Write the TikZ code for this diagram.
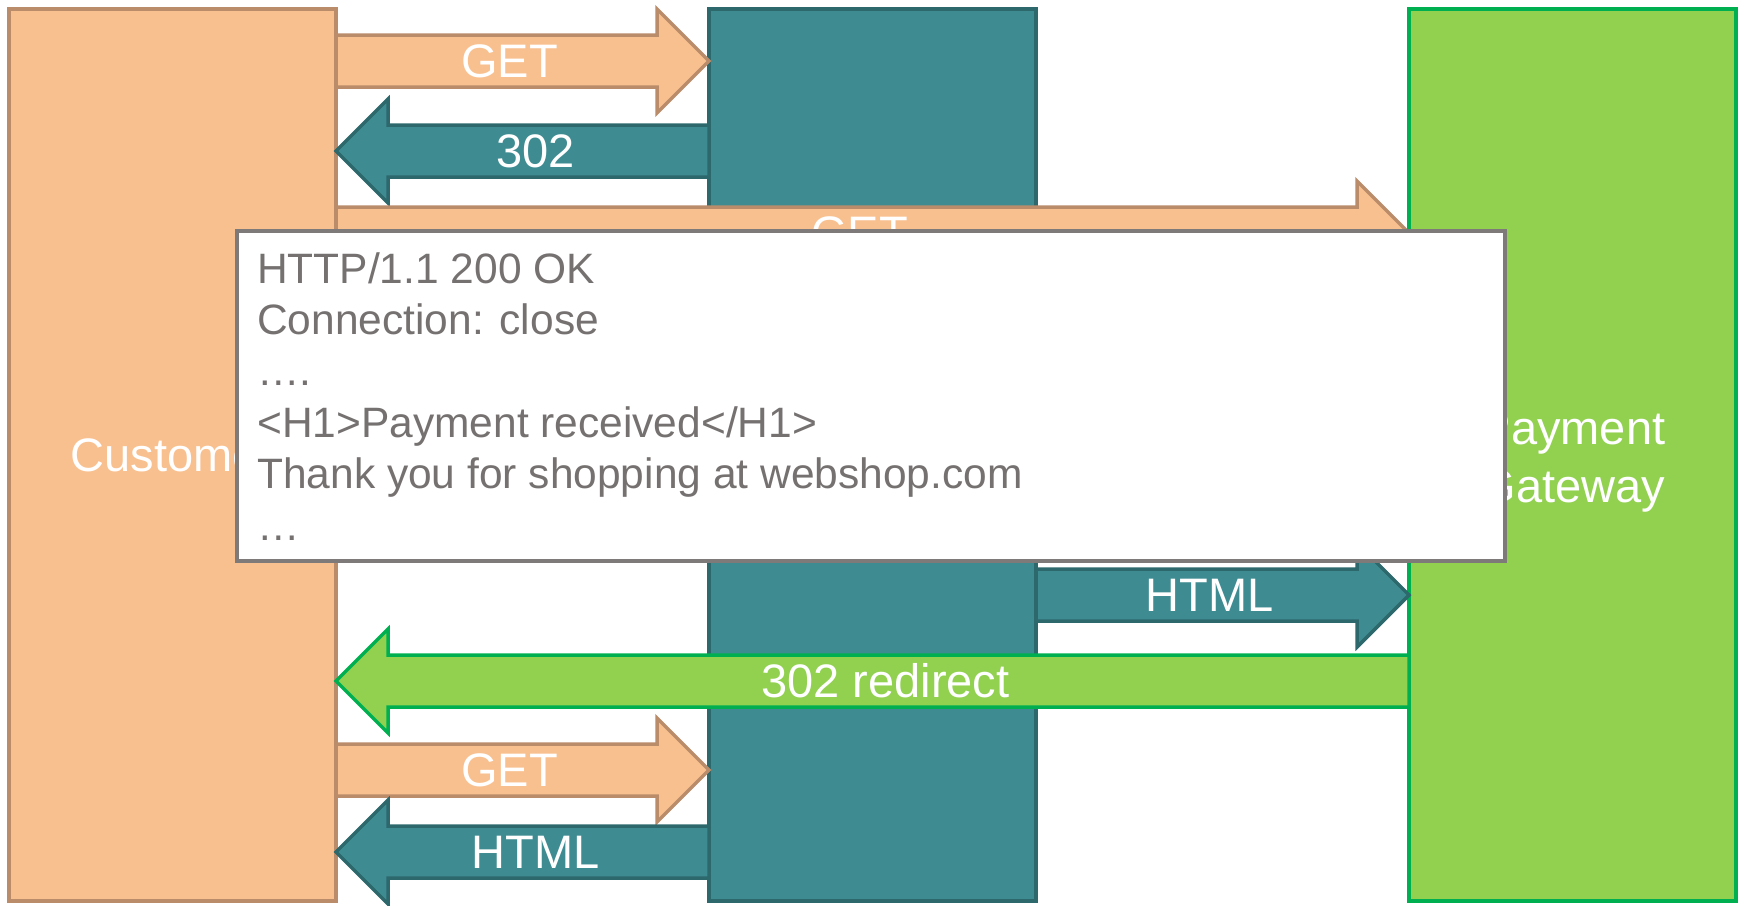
\documentclass[tikz,border=0pt]{standalone}
\usepackage{fontspec}
\setmainfont{Liberation Sans}
\definecolor{peachfill}{RGB}{249,192,143}
\definecolor{peachline}{RGB}{186,140,106}
\definecolor{shopfill}{RGB}{62,140,146}
\definecolor{shopline}{RGB}{44,104,108}
\definecolor{payfill}{RGB}{146,208,80}
\definecolor{payline}{RGB}{0,176,80}
\definecolor{noteline}{RGB}{127,122,122}
\definecolor{notetext}{RGB}{118,113,113}

\tikzset{
  lane/.style={draw, line width=3.5pt, inner sep=0pt, outer sep=0pt,
    anchor=north west, minimum width=327pt, minimum height=892pt,
    text=white, align=center, font=\fontsize{47}{58}\selectfont},
  custlane/.style={lane, fill=peachfill, draw=peachline},
  shoplane/.style={lane, fill=shopfill, draw=shopline},
  paylane/.style={lane, fill=payfill, draw=payline},
  lanetext/.style={text=white, inner sep=0pt, align=center,
    font=\fontsize{47}{58}\selectfont},
  parrow/.style={fill=peachfill, draw=peachline, line width=3.5pt, line join=miter},
  tarrow/.style={fill=shopfill, draw=shopline, line width=3.5pt, line join=miter},
  garrow/.style={fill=payfill, draw=payline, line width=3.5pt, line join=miter},
  lbl/.style={text=white, inner sep=0pt, font=\fontsize{47}{56}\selectfont,
    text height=33.6pt, text depth=0pt},
  notebox/.style={draw=noteline, fill=white, line width=4pt, inner sep=0pt,
    outer sep=0pt, anchor=north west},
  notetxt/.style={text=notetext, inner sep=0pt, anchor=north west, align=left,
    font=\fontsize{42.5}{51.4}\selectfont}
}

% block arrow pointing right: style, tail x, tip x, centre y, label, label name
\newcommand{\blockright}[6]{%
  \draw[#1] (#2,#4-26) -- (#3-52,#4-26) -- (#3-52,#4-52) -- (#3,#4)
    -- (#3-52,#4+52) -- (#3-52,#4+26) -- (#2,#4+26) -- cycle;
  \node[lbl] (#6) at ({(#2+#3)/2-13},#4) {#5};}
% block arrow pointing left: style, tail x, tip x, centre y, label, label name
\newcommand{\blockleft}[6]{%
  \draw[#1] (#2,#4-26) -- (#3+52,#4-26) -- (#3+52,#4-52) -- (#3,#4)
    -- (#3+52,#4+52) -- (#3+52,#4+26) -- (#2,#4+26) -- cycle;
  \node[lbl] (#6) at ({(#2+#3)/2+13},#4) {#5};}

\begin{document}
\begin{tikzpicture}[x=1pt,y=-1pt]
\useasboundingbox (0,0) rectangle (1745,905);
\clip (0,0) rectangle (1745,905);

% the three parties
\node[custlane] (cust) at (9,9) {Customer};
\node[shoplane] (shop) at (709,9) {};
\node[paylane] (pay) at (1409,9) {};
\node[lanetext] (paytext) at (1572.5,462) {Payment\\Gateway};

% message flow
\blockright{parrow}{336}{709}{61}{GET}{m1}
\blockleft{tarrow}{709}{336}{151}{302}{m2}
\blockright{parrow}{336}{1409}{233}{GET}{m3}
\blockright{tarrow}{1036}{1409}{595}{HTML}{m4}
\blockleft{garrow}{1409}{336}{681}{302 redirect}{m5}
\blockright{parrow}{336}{709}{770}{GET}{m6}
\blockleft{tarrow}{709}{336}{852}{HTML}{m7}

% response overlay
\node[notebox, minimum width=1268pt, minimum height=330pt] (resp) at (237,231) {};
\node[notetxt] (resptext) at (257,252)
  {HTTP/1.1 200 OK\\Connection: close\\….\\<H1>Payment received</H1>\\Thank you for shopping at webshop.com\\…};
\end{tikzpicture}
\end{document}
